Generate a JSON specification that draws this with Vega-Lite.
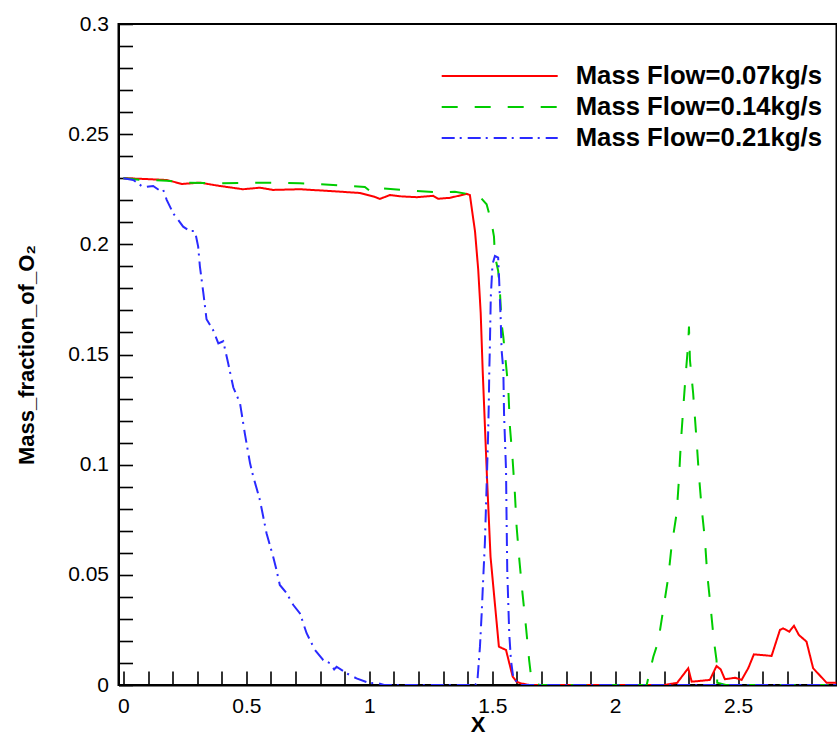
{
  "$schema": "https://vega.github.io/schema/vega-lite/v6.json",
  "width": 718,
  "height": 661,
  "autosize": {"type": "none"},
  "padding": {"left": 118.5, "top": 24, "right": 0.5, "bottom": 53},
  "config": {
    "view": {"stroke": "black", "strokeWidth": 2},
    "font": "Liberation Sans"
  },
  "data": {
    "values": [
      {"s": "Mass Flow=0.07kg/s", "x": 0, "y": 0.230},
      {"s": "Mass Flow=0.07kg/s", "x": 0.079, "y": 0.2297},
      {"s": "Mass Flow=0.07kg/s", "x": 0.177, "y": 0.2292},
      {"s": "Mass Flow=0.07kg/s", "x": 0.238, "y": 0.2274},
      {"s": "Mass Flow=0.07kg/s", "x": 0.311, "y": 0.228},
      {"s": "Mass Flow=0.07kg/s", "x": 0.380, "y": 0.2267},
      {"s": "Mass Flow=0.07kg/s", "x": 0.486, "y": 0.225},
      {"s": "Mass Flow=0.07kg/s", "x": 0.555, "y": 0.2257},
      {"s": "Mass Flow=0.07kg/s", "x": 0.608, "y": 0.2247},
      {"s": "Mass Flow=0.07kg/s", "x": 0.718, "y": 0.225},
      {"s": "Mass Flow=0.07kg/s", "x": 0.840, "y": 0.2242},
      {"s": "Mass Flow=0.07kg/s", "x": 0.962, "y": 0.2233},
      {"s": "Mass Flow=0.07kg/s", "x": 1.023, "y": 0.2215},
      {"s": "Mass Flow=0.07kg/s", "x": 1.043, "y": 0.2206},
      {"s": "Mass Flow=0.07kg/s", "x": 1.084, "y": 0.2224},
      {"s": "Mass Flow=0.07kg/s", "x": 1.124, "y": 0.2218},
      {"s": "Mass Flow=0.07kg/s", "x": 1.192, "y": 0.2214},
      {"s": "Mass Flow=0.07kg/s", "x": 1.260, "y": 0.222},
      {"s": "Mass Flow=0.07kg/s", "x": 1.280, "y": 0.2207},
      {"s": "Mass Flow=0.07kg/s", "x": 1.328, "y": 0.2211},
      {"s": "Mass Flow=0.07kg/s", "x": 1.396, "y": 0.2229},
      {"s": "Mass Flow=0.07kg/s", "x": 1.409, "y": 0.2224},
      {"s": "Mass Flow=0.07kg/s", "x": 1.430, "y": 0.2058},
      {"s": "Mass Flow=0.07kg/s", "x": 1.443, "y": 0.1884},
      {"s": "Mass Flow=0.07kg/s", "x": 1.453, "y": 0.1689},
      {"s": "Mass Flow=0.07kg/s", "x": 1.461, "y": 0.143},
      {"s": "Mass Flow=0.07kg/s", "x": 1.479, "y": 0.0931},
      {"s": "Mass Flow=0.07kg/s", "x": 1.493, "y": 0.0582},
      {"s": "Mass Flow=0.07kg/s", "x": 1.527, "y": 0.0174},
      {"s": "Mass Flow=0.07kg/s", "x": 1.556, "y": 0.0159},
      {"s": "Mass Flow=0.07kg/s", "x": 1.583, "y": 0.0038},
      {"s": "Mass Flow=0.07kg/s", "x": 1.599, "y": 0.0015},
      {"s": "Mass Flow=0.07kg/s", "x": 1.615, "y": 0.0008},
      {"s": "Mass Flow=0.07kg/s", "x": 1.65, "y": 0},
      {"s": "Mass Flow=0.07kg/s", "x": 2.2, "y": 0},
      {"s": "Mass Flow=0.07kg/s", "x": 2.252, "y": 0.001},
      {"s": "Mass Flow=0.07kg/s", "x": 2.297, "y": 0.0076},
      {"s": "Mass Flow=0.07kg/s", "x": 2.311, "y": 0.0015},
      {"s": "Mass Flow=0.07kg/s", "x": 2.385, "y": 0.0023},
      {"s": "Mass Flow=0.07kg/s", "x": 2.412, "y": 0.0086},
      {"s": "Mass Flow=0.07kg/s", "x": 2.429, "y": 0.0071},
      {"s": "Mass Flow=0.07kg/s", "x": 2.446, "y": 0.0026},
      {"s": "Mass Flow=0.07kg/s", "x": 2.488, "y": 0.0033},
      {"s": "Mass Flow=0.07kg/s", "x": 2.514, "y": 0.0023},
      {"s": "Mass Flow=0.07kg/s", "x": 2.541, "y": 0.0076},
      {"s": "Mass Flow=0.07kg/s", "x": 2.564, "y": 0.0139},
      {"s": "Mass Flow=0.07kg/s", "x": 2.636, "y": 0.0132},
      {"s": "Mass Flow=0.07kg/s", "x": 2.670, "y": 0.025},
      {"s": "Mass Flow=0.07kg/s", "x": 2.683, "y": 0.0257},
      {"s": "Mass Flow=0.07kg/s", "x": 2.708, "y": 0.0242},
      {"s": "Mass Flow=0.07kg/s", "x": 2.727, "y": 0.0269},
      {"s": "Mass Flow=0.07kg/s", "x": 2.747, "y": 0.0227},
      {"s": "Mass Flow=0.07kg/s", "x": 2.778, "y": 0.0197},
      {"s": "Mass Flow=0.07kg/s", "x": 2.805, "y": 0.0076},
      {"s": "Mass Flow=0.07kg/s", "x": 2.860, "y": 0.001},
      {"s": "Mass Flow=0.07kg/s", "x": 2.900, "y": 0.001},

      {"s": "Mass Flow=0.14kg/s", "x": 0, "y": 0.230},
      {"s": "Mass Flow=0.14kg/s", "x": 0.079, "y": 0.2292},
      {"s": "Mass Flow=0.14kg/s", "x": 0.177, "y": 0.2289},
      {"s": "Mass Flow=0.14kg/s", "x": 0.258, "y": 0.228},
      {"s": "Mass Flow=0.14kg/s", "x": 0.380, "y": 0.2277},
      {"s": "Mass Flow=0.14kg/s", "x": 0.555, "y": 0.228},
      {"s": "Mass Flow=0.14kg/s", "x": 0.718, "y": 0.2277},
      {"s": "Mass Flow=0.14kg/s", "x": 0.880, "y": 0.2268},
      {"s": "Mass Flow=0.14kg/s", "x": 0.982, "y": 0.226},
      {"s": "Mass Flow=0.14kg/s", "x": 1.011, "y": 0.2235},
      {"s": "Mass Flow=0.14kg/s", "x": 1.043, "y": 0.2255},
      {"s": "Mass Flow=0.14kg/s", "x": 1.165, "y": 0.2244},
      {"s": "Mass Flow=0.14kg/s", "x": 1.301, "y": 0.2235},
      {"s": "Mass Flow=0.14kg/s", "x": 1.348, "y": 0.2239},
      {"s": "Mass Flow=0.14kg/s", "x": 1.423, "y": 0.2224},
      {"s": "Mass Flow=0.14kg/s", "x": 1.450, "y": 0.2215},
      {"s": "Mass Flow=0.14kg/s", "x": 1.477, "y": 0.2182},
      {"s": "Mass Flow=0.14kg/s", "x": 1.497, "y": 0.210},
      {"s": "Mass Flow=0.14kg/s", "x": 1.507, "y": 0.2035},
      {"s": "Mass Flow=0.14kg/s", "x": 1.511, "y": 0.1947},
      {"s": "Mass Flow=0.14kg/s", "x": 1.524, "y": 0.188},
      {"s": "Mass Flow=0.14kg/s", "x": 1.531, "y": 0.179},
      {"s": "Mass Flow=0.14kg/s", "x": 1.538, "y": 0.164},
      {"s": "Mass Flow=0.14kg/s", "x": 1.545, "y": 0.158},
      {"s": "Mass Flow=0.14kg/s", "x": 1.558, "y": 0.143},
      {"s": "Mass Flow=0.14kg/s", "x": 1.565, "y": 0.135},
      {"s": "Mass Flow=0.14kg/s", "x": 1.572, "y": 0.117},
      {"s": "Mass Flow=0.14kg/s", "x": 1.583, "y": 0.102},
      {"s": "Mass Flow=0.14kg/s", "x": 1.592, "y": 0.087},
      {"s": "Mass Flow=0.14kg/s", "x": 1.599, "y": 0.072},
      {"s": "Mass Flow=0.14kg/s", "x": 1.610, "y": 0.057},
      {"s": "Mass Flow=0.14kg/s", "x": 1.623, "y": 0.0416},
      {"s": "Mass Flow=0.14kg/s", "x": 1.637, "y": 0.0265},
      {"s": "Mass Flow=0.14kg/s", "x": 1.650, "y": 0.0113},
      {"s": "Mass Flow=0.14kg/s", "x": 1.661, "y": 0.001},
      {"s": "Mass Flow=0.14kg/s", "x": 1.694, "y": 0},
      {"s": "Mass Flow=0.14kg/s", "x": 2.128, "y": 0},
      {"s": "Mass Flow=0.14kg/s", "x": 2.155, "y": 0.0128},
      {"s": "Mass Flow=0.14kg/s", "x": 2.175, "y": 0.0197},
      {"s": "Mass Flow=0.14kg/s", "x": 2.195, "y": 0.034},
      {"s": "Mass Flow=0.14kg/s", "x": 2.216, "y": 0.049},
      {"s": "Mass Flow=0.14kg/s", "x": 2.229, "y": 0.0628},
      {"s": "Mass Flow=0.14kg/s", "x": 2.250, "y": 0.078},
      {"s": "Mass Flow=0.14kg/s", "x": 2.259, "y": 0.093},
      {"s": "Mass Flow=0.14kg/s", "x": 2.267, "y": 0.11},
      {"s": "Mass Flow=0.14kg/s", "x": 2.277, "y": 0.126},
      {"s": "Mass Flow=0.14kg/s", "x": 2.286, "y": 0.14},
      {"s": "Mass Flow=0.14kg/s", "x": 2.297, "y": 0.155},
      {"s": "Mass Flow=0.14kg/s", "x": 2.300, "y": 0.1627},
      {"s": "Mass Flow=0.14kg/s", "x": 2.304, "y": 0.1475},
      {"s": "Mass Flow=0.14kg/s", "x": 2.317, "y": 0.1324},
      {"s": "Mass Flow=0.14kg/s", "x": 2.331, "y": 0.111},
      {"s": "Mass Flow=0.14kg/s", "x": 2.340, "y": 0.096},
      {"s": "Mass Flow=0.14kg/s", "x": 2.351, "y": 0.081},
      {"s": "Mass Flow=0.14kg/s", "x": 2.365, "y": 0.0658},
      {"s": "Mass Flow=0.14kg/s", "x": 2.374, "y": 0.0507},
      {"s": "Mass Flow=0.14kg/s", "x": 2.388, "y": 0.0355},
      {"s": "Mass Flow=0.14kg/s", "x": 2.401, "y": 0.0204},
      {"s": "Mass Flow=0.14kg/s", "x": 2.412, "y": 0.0113},
      {"s": "Mass Flow=0.14kg/s", "x": 2.415, "y": 0.001},
      {"s": "Mass Flow=0.14kg/s", "x": 2.45, "y": 0},
      {"s": "Mass Flow=0.14kg/s", "x": 2.9, "y": 0},

      {"s": "Mass Flow=0.21kg/s", "x": 0, "y": 0.230},
      {"s": "Mass Flow=0.21kg/s", "x": 0.040, "y": 0.2292},
      {"s": "Mass Flow=0.21kg/s", "x": 0.081, "y": 0.2259},
      {"s": "Mass Flow=0.21kg/s", "x": 0.121, "y": 0.2265},
      {"s": "Mass Flow=0.21kg/s", "x": 0.148, "y": 0.2244},
      {"s": "Mass Flow=0.21kg/s", "x": 0.162, "y": 0.2247},
      {"s": "Mass Flow=0.21kg/s", "x": 0.176, "y": 0.2202},
      {"s": "Mass Flow=0.21kg/s", "x": 0.203, "y": 0.214},
      {"s": "Mass Flow=0.21kg/s", "x": 0.243, "y": 0.208},
      {"s": "Mass Flow=0.21kg/s", "x": 0.270, "y": 0.206},
      {"s": "Mass Flow=0.21kg/s", "x": 0.291, "y": 0.206},
      {"s": "Mass Flow=0.21kg/s", "x": 0.304, "y": 0.199},
      {"s": "Mass Flow=0.21kg/s", "x": 0.311, "y": 0.19},
      {"s": "Mass Flow=0.21kg/s", "x": 0.325, "y": 0.178},
      {"s": "Mass Flow=0.21kg/s", "x": 0.338, "y": 0.166},
      {"s": "Mass Flow=0.21kg/s", "x": 0.365, "y": 0.161},
      {"s": "Mass Flow=0.21kg/s", "x": 0.386, "y": 0.155},
      {"s": "Mass Flow=0.21kg/s", "x": 0.406, "y": 0.156},
      {"s": "Mass Flow=0.21kg/s", "x": 0.426, "y": 0.146},
      {"s": "Mass Flow=0.21kg/s", "x": 0.447, "y": 0.135},
      {"s": "Mass Flow=0.21kg/s", "x": 0.474, "y": 0.128},
      {"s": "Mass Flow=0.21kg/s", "x": 0.494, "y": 0.114},
      {"s": "Mass Flow=0.21kg/s", "x": 0.515, "y": 0.1006},
      {"s": "Mass Flow=0.21kg/s", "x": 0.528, "y": 0.0946},
      {"s": "Mass Flow=0.21kg/s", "x": 0.555, "y": 0.084},
      {"s": "Mass Flow=0.21kg/s", "x": 0.582, "y": 0.0689},
      {"s": "Mass Flow=0.21kg/s", "x": 0.609, "y": 0.0582},
      {"s": "Mass Flow=0.21kg/s", "x": 0.623, "y": 0.052},
      {"s": "Mass Flow=0.21kg/s", "x": 0.636, "y": 0.0454},
      {"s": "Mass Flow=0.21kg/s", "x": 0.664, "y": 0.0416},
      {"s": "Mass Flow=0.21kg/s", "x": 0.691, "y": 0.0363},
      {"s": "Mass Flow=0.21kg/s", "x": 0.718, "y": 0.0325},
      {"s": "Mass Flow=0.21kg/s", "x": 0.745, "y": 0.0235},
      {"s": "Mass Flow=0.21kg/s", "x": 0.779, "y": 0.0159},
      {"s": "Mass Flow=0.21kg/s", "x": 0.813, "y": 0.0113},
      {"s": "Mass Flow=0.21kg/s", "x": 0.840, "y": 0.0099},
      {"s": "Mass Flow=0.21kg/s", "x": 0.857, "y": 0.0071},
      {"s": "Mass Flow=0.21kg/s", "x": 0.867, "y": 0.0083},
      {"s": "Mass Flow=0.21kg/s", "x": 0.908, "y": 0.0053},
      {"s": "Mass Flow=0.21kg/s", "x": 0.948, "y": 0.003},
      {"s": "Mass Flow=0.21kg/s", "x": 1.002, "y": 0.0008},
      {"s": "Mass Flow=0.21kg/s", "x": 1.030, "y": 0.001},
      {"s": "Mass Flow=0.21kg/s", "x": 1.06, "y": 0},
      {"s": "Mass Flow=0.21kg/s", "x": 1.43, "y": 0},
      {"s": "Mass Flow=0.21kg/s", "x": 1.439, "y": 0.001},
      {"s": "Mass Flow=0.21kg/s", "x": 1.450, "y": 0.0174},
      {"s": "Mass Flow=0.21kg/s", "x": 1.457, "y": 0.0325},
      {"s": "Mass Flow=0.21kg/s", "x": 1.463, "y": 0.0477},
      {"s": "Mass Flow=0.21kg/s", "x": 1.470, "y": 0.0643},
      {"s": "Mass Flow=0.21kg/s", "x": 1.474, "y": 0.079},
      {"s": "Mass Flow=0.21kg/s", "x": 1.479, "y": 0.0976},
      {"s": "Mass Flow=0.21kg/s", "x": 1.483, "y": 0.113},
      {"s": "Mass Flow=0.21kg/s", "x": 1.486, "y": 0.128},
      {"s": "Mass Flow=0.21kg/s", "x": 1.488, "y": 0.143},
      {"s": "Mass Flow=0.21kg/s", "x": 1.490, "y": 0.152},
      {"s": "Mass Flow=0.21kg/s", "x": 1.494, "y": 0.176},
      {"s": "Mass Flow=0.21kg/s", "x": 1.501, "y": 0.191},
      {"s": "Mass Flow=0.21kg/s", "x": 1.511, "y": 0.1947},
      {"s": "Mass Flow=0.21kg/s", "x": 1.524, "y": 0.194},
      {"s": "Mass Flow=0.21kg/s", "x": 1.528, "y": 0.184},
      {"s": "Mass Flow=0.21kg/s", "x": 1.534, "y": 0.167},
      {"s": "Mass Flow=0.21kg/s", "x": 1.538, "y": 0.152},
      {"s": "Mass Flow=0.21kg/s", "x": 1.545, "y": 0.143},
      {"s": "Mass Flow=0.21kg/s", "x": 1.548, "y": 0.123},
      {"s": "Mass Flow=0.21kg/s", "x": 1.556, "y": 0.0976},
      {"s": "Mass Flow=0.21kg/s", "x": 1.558, "y": 0.078},
      {"s": "Mass Flow=0.21kg/s", "x": 1.561, "y": 0.052},
      {"s": "Mass Flow=0.21kg/s", "x": 1.569, "y": 0.0235},
      {"s": "Mass Flow=0.21kg/s", "x": 1.576, "y": 0.0113},
      {"s": "Mass Flow=0.21kg/s", "x": 1.585, "y": 0.0038},
      {"s": "Mass Flow=0.21kg/s", "x": 1.599, "y": 0.0015},
      {"s": "Mass Flow=0.21kg/s", "x": 1.612, "y": 0},
      {"s": "Mass Flow=0.21kg/s", "x": 2.9, "y": 0}
    ]
  },
  "mark": {"type": "line", "strokeWidth": 2, "clip": true},
  "encoding": {
    "x": {
      "field": "x", "type": "quantitative",
      "scale": {"domain": [-0.02, 2.9], "nice": false, "zero": false},
      "axis": {
        "title": "X",
        "titleFont": "Liberation Sans", "titleFontSize": 22, "titleFontWeight": "bold", "titleColor": "black",
        "titlePadding": -2,
        "values": [0,0.1,0.2,0.3,0.4,0.5,0.6,0.7,0.8,0.9,1,1.1,1.2,1.3,1.4,1.5,1.6,1.7,1.8,1.9,2,2.1,2.2,2.3,2.4,2.5,2.6,2.7,2.8,2.9],
        "labelExpr": "abs(datum.value*2 - round(datum.value*2)) < 1e-6 ? format(datum.value, '~g') : ''",
        "labelFont": "Liberation Sans", "labelFontSize": 21, "labelColor": "black",
        "labelPadding": 24, "labelFlush": false, "labelOverlap": false,
        "ticks": true,
        "tickSize": -14,
        "tickColor": "black",
        "tickWidth": 1.6,
        "domainColor": "black", "domainWidth": 2,
        "grid": false
      }
    },
    "y": {
      "field": "y", "type": "quantitative",
      "scale": {"domain": [0, 0.3], "nice": false},
      "axis": {
        "title": "Mass_fraction_of_O₂",
        "titleFont": "Liberation Sans", "titleFontSize": 22, "titleFontWeight": "bold", "titleColor": "black",
        "titlePadding": 29,
        "values": [0,0.01,0.02,0.03,0.04,0.05,0.06,0.07,0.08,0.09,0.1,0.11,0.12,0.13,0.14,0.15,0.16,0.17,0.18,0.19,0.2,0.21,0.22,0.23,0.24,0.25,0.26,0.27,0.28,0.29,0.3],
        "labelExpr": "abs(datum.value*20 - round(datum.value*20)) < 1e-6 ? format(datum.value, '~g') : ''",
        "labelFont": "Liberation Sans", "labelFontSize": 21, "labelColor": "black",
        "labelPadding": 24, "labelFlush": false, "labelOverlap": false,
        "ticks": true,
        "tickSize": -14,
        "tickColor": "black",
        "tickWidth": 1.6,
        "domainColor": "black", "domainWidth": 2,
        "grid": false
      }
    },
    "color": {
      "field": "s", "type": "nominal",
      "scale": {"domain": ["Mass Flow=0.07kg/s", "Mass Flow=0.14kg/s", "Mass Flow=0.21kg/s"], "range": ["#ff0000", "#00cc00", "#2a2aff"]},
      "legend": {
        "orient": "none", "legendX": 365.7, "legendY": 36.5,
        "title": null, "direction": "vertical",
        "symbolType": "M-4,0H4", "symbolSize": 841, "symbolStrokeWidth": 2,
        "labelFont": "Liberation Sans", "labelFontSize": 25.7, "labelFontWeight": "bold", "labelColor": "black",
        "labelOffset": 60.5, "rowPadding": 2, "padding": 0, "labelLimit": 400
      }
    },
    "strokeDash": {
      "field": "s", "type": "nominal",
      "scale": {"domain": ["Mass Flow=0.07kg/s", "Mass Flow=0.14kg/s", "Mass Flow=0.21kg/s"], "range": [[1, 0], [16, 17], [13, 5, 2, 6]]},
      "legend": {
        "orient": "none", "legendX": 365.7, "legendY": 36.5,
        "title": null, "direction": "vertical",
        "symbolType": "M-4,0H4", "symbolSize": 841, "symbolStrokeWidth": 2,
        "labelFont": "Liberation Sans", "labelFontSize": 25.7, "labelFontWeight": "bold", "labelColor": "black",
        "labelOffset": 60.5, "rowPadding": 2, "padding": 0, "labelLimit": 400
      }
    }
  }
}
